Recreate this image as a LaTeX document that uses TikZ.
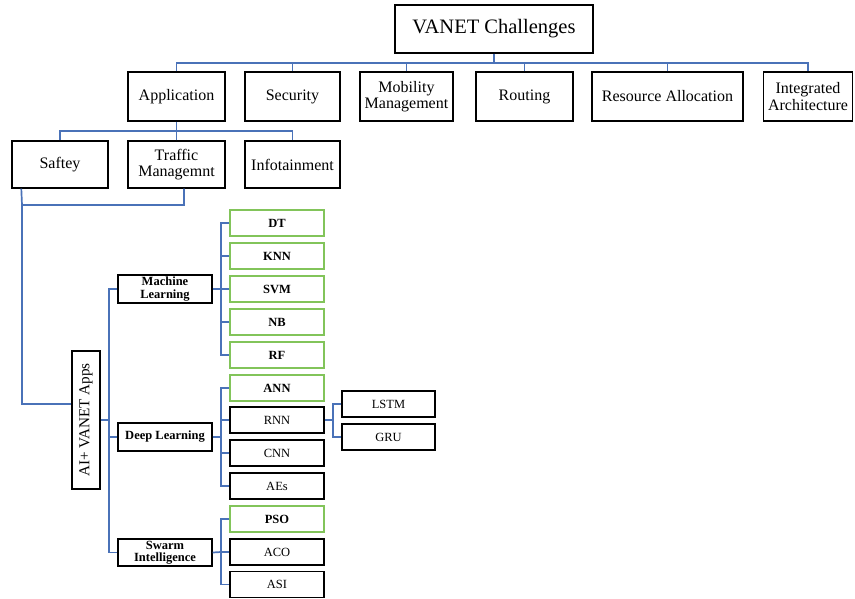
\documentclass[tikz,border=0pt]{standalone}
\usepackage{fontspec}
\setmainfont{Liberation Serif}
\definecolor{connblue}{HTML}{4A72B8}
\definecolor{leafgreen}{HTML}{82C45A}
\tikzset{
  box/.style={draw=black, line width=1.4pt, align=center, inner sep=1pt, fill=white,
    font=\fontsize{16}{16.5}\selectfont},
  midbox/.style={draw=black, line width=1.4pt, align=center, inner sep=1pt, fill=white,
    minimum width=94pt, font=\fontsize{12.5}{12.5}\selectfont\bfseries},
  leaf/.style={draw=black, line width=1.3pt, align=center, inner sep=1pt, fill=white,
    minimum width=94pt, minimum height=26pt, font=\fontsize{12.5}{13}\selectfont},
  gleaf/.style={leaf, draw=leafgreen, font=\fontsize{12.5}{13}\selectfont\bfseries},
  conn/.style={draw=connblue, line width=1.7pt},
}
\begin{document}
\begin{tikzpicture}[x=1pt,y=-1pt]
\useasboundingbox (0,0) rectangle (855,598);

% top
\node[box, minimum width=198pt, minimum height=48pt, font=\fontsize{20.5}{22}\selectfont] (vc) at (494,29) {VANET Challenges};

% level 1
\node[box, minimum width=97pt, minimum height=49pt] (app) at (176.5,96.5) {Application};
\node[box, minimum width=95pt, minimum height=49pt] (sec) at (292.5,96.5) {Security};
\node[box, minimum width=93pt, minimum height=49pt] (mob) at (406.5,96.5) {Mobility\\Management};
\node[box, minimum width=97pt, minimum height=49pt] (rout) at (524.5,96.5) {Routing};
\node[box, minimum width=151pt, minimum height=49pt] (res) at (667.5,96.5) {Resource Allocation};
\node[box, minimum width=89pt, minimum height=49pt] (ia) at (808,96.5) {Integrated\\Architecture};

\coordinate (bus) at (494,63);
\draw[conn] (vc.south) -- (bus);
\draw[conn] (app.north) |- (bus) -| (ia.north);
\foreach \n in {sec,mob,rout,res} \draw[conn] (\n.north) -- (\n.north |- bus);

% level 2
\node[box, minimum width=96pt, minimum height=47pt] (saf) at (60,164.5) {Saftey};
\node[box, minimum width=97pt, minimum height=47pt] (tm) at (176.5,164.5) {Traffic\\Managemnt};
\node[box, minimum width=95pt, minimum height=47pt] (inf) at (292.5,164.5) {Infotainment};

\coordinate (bus2) at (176.5,131);
\draw[conn] (app.south) -- (bus2);
\draw[conn] (saf.north) |- (bus2) -| (inf.north);
\draw[conn] (tm.north) -- (tm.north |- bus2);

% AI + VANET Apps
\node[box, minimum width=28pt, minimum height=138pt] (ai) at (86,420) {};
\node[rotate=90, inner sep=0pt, font=\fontsize{15.2}{16}\selectfont] (ait) at (ai.center) {AI+ VANET Apps};

\coordinate (j) at (22,205);
\draw[conn] ([xshift=10pt]saf.south west) -- (j) -| ([xshift=7.5pt]tm.south);
\draw[conn] (j) |- ([yshift=16pt]ai.west);

% categories
\node[midbox, minimum height=28pt] (ml) at (165,289) {Machine\\Learning};
\node[midbox, minimum height=28pt] (dl) at (165,437) {Deep Learning};
\node[midbox, minimum height=27pt] (si) at (165,552.5) {Swarm\\Intelligence};

\coordinate (v) at (109,420);
\draw[conn] (ml.west) -| (v) |- (si.west);
\draw[conn] (ai.east) -- (v);
\draw[conn] (dl.west) -- (dl.west -| v);

% ML leaves
\node[gleaf] (dt) at (277,223) {DT};
\node[gleaf] (knn) at (277,256) {KNN};
\node[gleaf] (svm) at (277,289) {SVM};
\node[gleaf] (nb) at (277,322) {NB};
\node[gleaf] (rf) at (277,355) {RF};
\coordinate (bml) at (221,289);
\draw[conn] (dt.west) -| (bml) |- (rf.west);
\draw[conn] (ml.east) -- (bml);
\foreach \n in {knn,svm,nb} \draw[conn] (\n.west) -- (\n.west -| bml);

% DL leaves
\node[gleaf] (ann) at (277,388) {ANN};
\node[leaf] (rnn) at (277,420) {RNN};
\node[leaf] (cnn) at (277,453) {CNN};
\node[leaf] (aes) at (277,486) {AEs};
\coordinate (bdl) at (221,437);
\draw[conn] (ann.west) -| (bdl) |- (aes.west);
\draw[conn] (dl.east) -- (bdl);
\foreach \n in {rnn,cnn} \draw[conn] (\n.west) -- (\n.west -| bdl);

% RNN children
\node[leaf, minimum width=93pt] (lstm) at (388.5,404) {LSTM};
\node[leaf, minimum width=93pt] (gru) at (388.5,437) {GRU};
\coordinate (brn) at (333,420);
\draw[conn] (lstm.west) -| (brn) |- (gru.west);
\draw[conn] (rnn.east) -- (brn);

% SI leaves
\node[gleaf] (pso) at (277,519) {PSO};
\node[leaf] (aco) at (277,552) {ACO};
\node[leaf] (asi) at (277,584.5) {ASI};
\coordinate (bsi) at (221,552);
\draw[conn] (pso.west) -| (bsi) |- (asi.west);
\draw[conn] (si.east) -- (bsi);
\draw[conn] (aco.west) -- (aco.west -| bsi);
\end{tikzpicture}
\end{document}
